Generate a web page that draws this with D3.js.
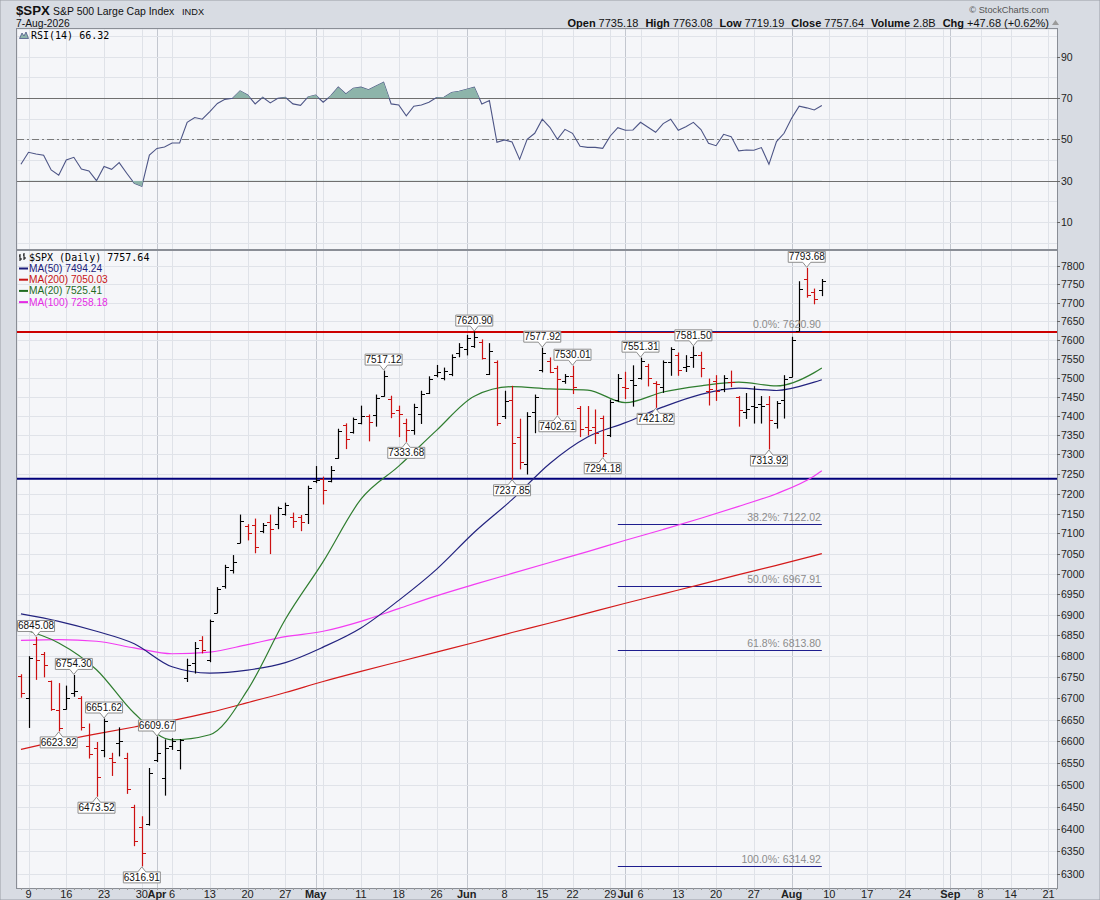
<!DOCTYPE html>
<html>
<head>
<meta charset="utf-8">
<title>$SPX</title>
<script src="https://cdn.jsdelivr.net/npm/d3@7"></script>
<style>
  body { margin: 0; background: #d8dce3; }
  svg { display: block; }
</style>
</head>
<body>
<svg width="1100" height="900"></svg>
<script>
'use strict';

// ---- calendar ----
const firstDay = "2026-03-06";
const lastDay = "2026-09-22";
const holidays = ["2026-04-03", "2026-05-25", "2026-06-19", "2026-07-03", "2026-09-07"];

// ---- daily bars, Mar 6 .. Aug 7 ----
const opens = [6752,6701,6830,6805,6740,6672,6676,6712,6700,6590,6585,6580,6560,6595,6560,6450,6403,6410,6556,6515,
  6590,6580,6748,6783,6840,6790,6905,6970,7010,7077,7118,7120,7105,7128,7123,7150,7140,7140,7150,7232,
  7238,7232,7290,7375,7357,7382,7400,7403,7452,7445,7414,7380,7362,7405,7460,7508,7500,7510,7565,7575,
  7585,7595,7510,7540,7400,7440,7346,7275,7410,7520,7545,7525,7490,7505,7420,7372,7370,7395,7350,7440,
  7475,7494,7498,7530,7485,7475,7540,7560,7528,7555,7560,7465,7490,7470,7488,7448,7410,7425,7430,7430,
  7380,7440,7502,7625,7765,7730,7735.18];
const highs = [6756,6799,6845.08,6809,6741,6735,6729,6754.30,6704,6640,6597,6651.62,6572,6631,6572,6453,6427,6537,6609.67,6603,
  6606,6604,6793,6833,6847,6887,6966,7021,7045,7146,7122,7136,7125,7146,7166,7176,7151,7145,7219,7269,
  7242,7269,7365,7379,7394,7425,7402,7454,7517.12,7451,7425,7391,7430,7464,7502,7532,7525,7560,7590,7612,
  7620.90,7600,7590,7544,7464,7477,7391,7408,7454,7577.92,7552,7530,7508,7530.01,7424,7424,7415,7399,7441,7508,
  7514,7531,7551.31,7535,7489,7544,7579,7565,7558,7581.50,7567,7496,7505,7505,7517,7450,7458,7476,7450,7450,
  7437,7505,7607,7757,7793.68,7737,7763.08];
const lows = [6703,6632,6745,6751,6672,6623.92,6675,6705,6626,6561,6473.52,6564,6521,6566,6480,6362,6316.91,6408,6553,6476,
  6581,6536,6740,6760,6808,6787,6905,6965,7002,7077,7084,7052,7102,7050,7112,7146,7115,7107,7125,7228,
  7174,7230,7290,7315,7355,7379,7335,7373,7451,7395,7346,7333.68,7352,7380,7458,7502,7494,7505,7555,7560,
  7580,7549,7508,7375,7393,7237.85,7263,7250,7356,7515,7513,7402.61,7485,7458,7346,7350,7328,7294.18,7346,7437,
  7445,7425,7496,7478,7421.82,7461,7506,7506,7516,7527,7502,7428,7440,7463,7476,7373,7393,7381,7381,7313.92,
  7368,7394,7502,7625,7715,7697,7719.19];
const closes = [6712,6795,6790,6780,6676,6631,6701,6718,6632,6570,6518,6648,6552,6600,6490,6373,6345,6527,6572,6585,
  6600,6603,6780,6820,6815,6885,6963,7018,7030,7130,7100,7067,7122,7110,7163,7172,7130,7128,7214,7235,
  7210,7260,7360,7340,7392,7400,7384,7446,7503,7408,7405,7362,7423,7458,7496,7515,7518,7555,7580,7605,
  7608,7552,7570,7380,7438,7330,7280,7400,7450,7565,7515,7495,7505,7475,7365,7362,7355,7305,7437,7500,
  7472,7481,7545,7500,7484,7540,7575,7520,7530,7560,7525,7470,7465,7500,7487,7415,7418,7422,7425,7390,
  7432,7496,7600,7738,7722,7709.96,7757.64];
const volumeText = "2.8B";

// ---- RSI(14), same days ----
const rsi14 = [37.9,43.7,42.9,42.3,35.2,32.6,40.0,41.3,35.6,34.7,30.0,36.9,35.5,38.7,33.6,28.7,27.3,42.4,45.6,46.3,
  48.2,48.2,58.2,60.5,59.7,63.4,67.3,69.3,69.8,73.4,71.4,67.1,70.3,67.6,69.8,70.3,67.1,66.4,70.5,71.4,
  67.9,71.0,75.2,71.9,74.7,75.2,73.9,75.8,77.6,67.1,66.6,61.3,66.0,66.6,67.9,70.2,70.3,72.6,73.2,74.2,
  75.2,67.1,68.7,48.5,49.7,48.7,40.3,50.0,52.9,59.7,55.8,50.0,54.8,52.9,46.6,46.1,46.1,45.6,51.6,55.6,
  54.4,54.5,58.2,55.8,53.4,57.6,59.7,54.4,56.1,58.2,54.7,48.1,46.9,52.4,51.3,44.4,44.8,44.7,46.0,37.9,
  48.9,52.9,60.2,66.0,65.2,64.2,66.32];

// ---- moving averages ----
const maDates = ["2026-03-06","2026-03-13","2026-03-20","2026-03-27","2026-04-06","2026-04-13","2026-04-20","2026-04-27",
  "2026-05-04","2026-05-11","2026-05-18","2026-05-26","2026-06-02","2026-06-09","2026-06-16","2026-06-24",
  "2026-07-01","2026-07-09","2026-07-16","2026-07-23","2026-07-30","2026-08-06","2026-08-07"];
const ma20 = [6866,6832,6768,6665,6603,6615,6720,6889,7030,7186,7270,7362,7451,7476,7470,7467,7434,7462,7478,7488,7478,7513,7525.41];
const ma50 = [6902,6884,6860,6830,6775,6760,6767,6785,6822,6868,6935,7011,7103,7185,7277,7345,7382,7423,7456,7472,7466,7488,7494.24];
const ma100 = [6838,6840,6836,6820,6806,6810,6828,6847,6860,6884,6915,6946,6974,7001,7028,7055,7083,7110,7138,7168,7200,7245,7258.18];
const ma200 = [6581,6600,6617,6633,6648,6667,6690,6714,6740,6764,6787,6810,6833,6857,6880,6904,6928,6951,6974,6998,7021,7045,7050.03];

// ---- annotations ----
const hiDates = ["2026-03-10","2026-03-17","2026-03-23","2026-04-01","2026-05-14","2026-06-02","2026-06-15","2026-06-22","2026-07-06","2026-07-15","2026-08-05"];
const hiValues = [6845.08,6754.30,6651.62,6609.67,7517.12,7620.90,7577.92,7530.01,7551.31,7581.50,7793.68];
const loDates = ["2026-03-13","2026-03-20","2026-03-30","2026-05-19","2026-06-09","2026-06-17","2026-06-26","2026-07-08","2026-07-29"];
const loValues = [6623.92,6473.52,6316.91,7333.68,7237.85,7402.61,7294.18,7421.82,7313.92];

const resistance = 7620.90;
const support = 7237.85;
const fibStart = "2026-06-30";
const fibEnd = "2026-08-07";
const fibHigh = 7620.90;
const fibLow = 6314.92;
const fibLevels = [0, 0.382, 0.5, 0.618, 1];

const priceTicks = d3.range(6300, 7801, 50);
const rsiTicks = [10, 30, 50, 70, 90];
const rsiGrid = d3.range(0, 101, 10);

// ---- layout ----
const svg = d3.select("svg");
const width = +svg.attr("width");
const height = +svg.attr("height");
const left = 17, right = 1057;
const rsiTop = 29, rsiBot = 250, priceBot = 888;
const sans = "'Liberation Sans', Arial, sans-serif";
const mono = "'DejaVu Sans Mono', 'Liberation Mono', monospace";

const fmt = d3.utcFormat("%Y-%m-%d");
const days = d3.utcDays(new Date(firstDay), d3.utcDay.offset(new Date(lastDay), 1))
  .filter(d => d.getUTCDay() % 6 !== 0 && !holidays.includes(fmt(d)));
const keys = days.map(fmt);

const step = 1020 / 135;
const x = d3.scalePoint().domain(keys).range([28.5 - step, 28.5 + (keys.length - 2) * step]);
const xs = k => Math.round(x(k)) + 0.5;
const y = d3.scaleLog().domain([6268, 7844]).range([priceBot, rsiBot]);
const yr = d3.scaleLinear().domain([-3.5, 103.3]).range([rsiBot, rsiTop]);
const ys = v => Math.round(y(v)) + 0.5;

// shrink or grow a text until it is w pixels wide
function fitText(t, w) {
  for (let k = 0; k < 3; k++) {
    const fs = parseFloat(t.style("font-size"));
    const bw = t.node().getBBox().width;
    if (bw > 0) t.style("font-size", (fs * w / bw) + "px");
  }
  return t;
}

svg.append("rect").attr("width", width).attr("height", height)
  .attr("fill", "#d8dce3").attr("stroke", "#9a9ea6");

const defs = svg.append("defs");
defs.append("clipPath").attr("id", "clipRsi").append("rect")
  .attr("x", left).attr("y", rsiTop).attr("width", right - left).attr("height", rsiBot - rsiTop);
defs.append("clipPath").attr("id", "clipPrice").append("rect")
  .attr("x", left).attr("y", rsiBot).attr("width", right - left).attr("height", priceBot - rsiBot);
defs.append("clipPath").attr("id", "clipHi").append("rect")
  .attr("x", left).attr("y", rsiTop).attr("width", right - left).attr("height", yr(70) - rsiTop);
defs.append("clipPath").attr("id", "clipLo").append("rect")
  .attr("x", left).attr("y", yr(30)).attr("width", right - left).attr("height", rsiBot - yr(30));

// panel backgrounds
[[rsiTop, rsiBot], [rsiBot, priceBot]].forEach(([t, b]) => {
  svg.append("rect").attr("x", left + 0.5).attr("y", t + 0.5)
    .attr("width", right - left).attr("height", b - t)
    .attr("fill", "#f5f6f9");
});

// ---- x ticks (weeks and months) ----
const monthTicks = [], weekTicks = [];
days.forEach((d, i) => {
  if (i === 0) return;
  const prev = days[i - 1];
  if (prev.getUTCMonth() !== d.getUTCMonth()) monthTicks.push(keys[i]);
  if (d3.utcMonday.floor(d) > prev) weekTicks.push(keys[i]);
});

const grid = svg.append("g");
weekTicks.forEach(k => {
  grid.append("line").attr("x1", xs(k)).attr("x2", xs(k)).attr("y1", rsiTop).attr("y2", priceBot)
    .attr("stroke", "#dfe2e8");
});
monthTicks.forEach(k => {
  grid.append("line").attr("x1", xs(k)).attr("x2", xs(k)).attr("y1", rsiTop).attr("y2", priceBot)
    .attr("stroke", "#c3c7cf");
});
priceTicks.forEach(v => {
  grid.append("line").attr("x1", left).attr("x2", right).attr("y1", ys(v)).attr("y2", ys(v))
    .attr("stroke", "#e0e3e9");
});
rsiGrid.forEach(v => {
  const yy = Math.round(yr(v)) + 0.5;
  grid.append("line").attr("x1", left).attr("x2", right).attr("y1", yy).attr("y2", yy)
    .attr("stroke", "#e0e3e9");
});

// ---- RSI panel ----
const rsiData = rsi14.map((v, i) => ({ k: keys[i], v }));
const rsiG = svg.append("g").attr("clip-path", "url(#clipRsi)");
[70, 30].forEach(v => {
  const yy = Math.round(yr(v)) + 0.5;
  rsiG.append("line").attr("x1", left).attr("x2", right).attr("y1", yy).attr("y2", yy)
    .attr("stroke", "#6f6f6f");
});
rsiG.append("line").attr("x1", left).attr("x2", right)
  .attr("y1", Math.round(yr(50)) + 0.5).attr("y2", Math.round(yr(50)) + 0.5)
  .attr("stroke", "#7a7a7a").attr("stroke-dasharray", "7,3,2,3");

const areaHi = d3.area().x(d => x(d.k)).y0(yr(70)).y1(d => yr(d.v));
const areaLo = d3.area().x(d => x(d.k)).y0(yr(30)).y1(d => yr(d.v));
svg.append("path").attr("clip-path", "url(#clipHi)").attr("d", areaHi(rsiData)).attr("fill", "#8db4aa");
svg.append("path").attr("clip-path", "url(#clipLo)").attr("d", areaLo(rsiData)).attr("fill", "#8db4aa");
rsiG.append("path").attr("d", d3.line().x(d => x(d.k)).y(d => yr(d.v))(rsiData))
  .attr("fill", "none").attr("stroke", "#4d5586").attr("stroke-width", 1.1);

// ---- price panel ----
const pg = svg.append("g").attr("clip-path", "url(#clipPrice)");

pg.append("line").attr("x1", left).attr("x2", right).attr("y1", y(resistance)).attr("y2", y(resistance))
  .attr("stroke", "#cc0000").attr("stroke-width", 2);
pg.append("line").attr("x1", left).attr("x2", right).attr("y1", y(support)).attr("y2", y(support))
  .attr("stroke", "#00007a").attr("stroke-width", 2);

fibLevels.forEach(f => {
  const v = fibHigh - f * (fibHigh - fibLow);
  pg.append("line").attr("x1", x(fibStart)).attr("x2", x(fibEnd)).attr("y1", ys(v) - 1).attr("y2", ys(v) - 1)
    .attr("stroke", "#1d1d8e").attr("stroke-width", 1);
});

const maSeries = [[ma200, "#d41a1a"], [ma100, "#f23cf2"], [ma50, "#23237f"], [ma20, "#2f7d2f"]];
const maLine = d3.line().curve(d3.curveMonotoneX).x(d => x(d[0])).y(d => y(d[1]));
maSeries.forEach(([vals, col]) => {
  pg.append("path").attr("d", maLine(maDates.map((k, i) => [k, vals[i]])))
    .attr("fill", "none").attr("stroke", col).attr("stroke-width", 1.2);
});

// OHLC bars
const bars = closes.map((c, i) => ({
  k: keys[i], o: opens[i], h: highs[i], l: lows[i], c,
  up: i === 0 ? c >= opens[i] : c >= closes[i - 1]
}));
const barG = pg.append("g");
bars.forEach(b => {
  const cx = xs(b.k);
  const col = b.up ? "#000000" : "#cc1111";
  barG.append("line").attr("x1", cx).attr("x2", cx).attr("y1", y(b.h) - 0.5).attr("y2", y(b.l) + 0.5)
    .attr("stroke", col).attr("stroke-width", 1.2);
  barG.append("line").attr("x1", cx - 3.5).attr("x2", cx).attr("y1", ys(b.o)).attr("y2", ys(b.o))
    .attr("stroke", col);
  barG.append("line").attr("x1", cx).attr("x2", cx + 3.5).attr("y1", ys(b.c)).attr("y2", ys(b.c))
    .attr("stroke", col);
});

// fib labels
fibLevels.forEach(f => {
  const v = fibHigh - f * (fibHigh - fibLow);
  pg.append("text").attr("x", x(fibEnd) - 1).attr("y", y(v) - 4)
    .attr("text-anchor", "end").attr("fill", "#8c8c8c")
    .style("font-family", sans).style("font-size", "10.5px")
    .text(d3.format(".1f")(f * 100) + "%: " + d3.format(".2f")(v));
});

// high / low callouts
function callout(k, v, up) {
  const cx = x(k), w = 37, h = 11, gap = 5;
  const tip = up ? y(v) - 1 : y(v) + 1;
  const edge = up ? tip - gap : tip + gap;
  const far = up ? edge - h : edge + h;
  const g = pg.append("g");
  g.append("path")
    .attr("d", `M${cx - w / 2},${far}H${cx + w / 2}V${edge}H${cx + 4}L${cx},${tip}L${cx - 4},${edge}H${cx - w / 2}Z`)
    .attr("fill", "#ffffff").attr("stroke", "#8e8e8e").attr("stroke-width", 1);
  g.append("text").attr("x", cx).attr("y", Math.max(edge, far) - 2)
    .attr("text-anchor", "middle").attr("fill", "#111")
    .style("font-family", sans).style("font-size", "10px")
    .text(d3.format(".2f")(v));
}
hiDates.forEach((k, i) => callout(k, hiValues[i], true));
loDates.forEach((k, i) => callout(k, loValues[i], false));

// panel borders
[[rsiTop, rsiBot], [rsiBot, priceBot]].forEach(([t, b]) => {
  svg.append("rect").attr("x", left - 0.5).attr("y", t - 0.5)
    .attr("width", right - left + 1).attr("height", b - t + 1)
    .attr("fill", "none").attr("stroke", "#8a8e96");
});

// ---- axes ----
const axisG = svg.append("g").style("font-family", sans).style("font-size", "10.5px").attr("fill", "#222");
priceTicks.forEach(v => {
  axisG.append("line").attr("x1", right).attr("x2", right + 3).attr("y1", ys(v)).attr("y2", ys(v)).attr("stroke", "#666");
  axisG.append("text").attr("x", right + 4).attr("y", y(v) + 4).text(v);
});
rsiTicks.forEach(v => {
  const yy = Math.round(yr(v)) + 0.5;
  axisG.append("line").attr("x1", right).attr("x2", right + 3).attr("y1", yy).attr("y2", yy).attr("stroke", "#666");
  axisG.append("text").attr("x", right + 4).attr("y", yr(v) + 4).text(v);
});
keys.forEach(k => {
  axisG.append("line").attr("x1", xs(k)).attr("x2", xs(k)).attr("y1", priceBot).attr("y2", priceBot + 2)
    .attr("stroke", "#9a9a9a");
});
const xLab = svg.append("g").style("font-family", sans).style("font-size", "11px").attr("fill", "#222");
monthTicks.forEach(k => {
  xLab.append("text").attr("x", x(k)).attr("y", 898).attr("text-anchor", "middle")
    .style("font-weight", "bold").text(d3.utcFormat("%b")(new Date(k)));
});
weekTicks.forEach(k => {
  if (monthTicks.some(m => Math.abs(x(m) - x(k)) < 10)) return;
  xLab.append("text").attr("x", x(k)).attr("y", 898).attr("text-anchor", "middle")
    .text(+k.slice(8));
});

// ---- legends ----
const n = closes.length - 1;
svg.append("path").attr("d", "M20,254V261M19,256H20M20,259H22M24,253V260M23,255H24M24,258H26")
  .attr("stroke", "#000").attr("fill", "none");
svg.append("text").attr("x", 29).attr("y", 261)
  .style("font-family", mono).style("font-size", "10px").attr("fill", "#000")
  .text("$SPX (Daily) " + d3.format(".2f")(closes[n]));

const maLegend = [["MA(50)", ma50, "#1b1b7a"], ["MA(200)", ma200, "#c81414"], ["MA(20)", ma20, "#1f6b1f"], ["MA(100)", ma100, "#e52be5"]];
maLegend.forEach(([name, vals, col], i) => {
  const yy = 272 + i * 11.2;
  svg.append("line").attr("x1", 19).attr("x2", 28).attr("y1", yy - 3.5).attr("y2", yy - 3.5)
    .attr("stroke", col).attr("stroke-width", 2);
  svg.append("text").attr("x", 29).attr("y", yy)
    .style("font-family", sans).style("font-size", "10.2px").attr("fill", col)
    .text(name + " " + d3.format(".2f")(vals[vals.length - 1]));
});

svg.append("path").attr("d", "M19.5,38.5L22,33L24,36L26,32L28.5,38.5Z")
  .attr("fill", "#8db4aa").attr("stroke", "#4d5586").attr("stroke-width", 0.8);
svg.append("text").attr("x", 31).attr("y", 38.5)
  .style("font-family", mono).style("font-size", "10px").attr("fill", "#000")
  .text("RSI(14) " + d3.format(".2f")(rsi14[rsi14.length - 1]));

// ---- header ----
fitText(svg.append("text").attr("x", 16).attr("y", 14.5)
  .style("font-family", sans).style("font-size", "14px").style("font-weight", "bold").attr("fill", "#111")
  .text("$SPX"), 34);
fitText(svg.append("text").attr("x", 53).attr("y", 14.5)
  .style("font-family", sans).style("font-size", "11px").attr("fill", "#111")
  .text("S&P 500 Large Cap Index"), 122);
fitText(svg.append("text").attr("x", 182).attr("y", 14.5)
  .style("font-family", sans).style("font-size", "10px").attr("fill", "#111")
  .text("INDX"), 22);
fitText(svg.append("text").attr("x", 16).attr("y", 26.5)
  .style("font-family", sans).style("font-size", "11px").attr("fill", "#111")
  .text("7-Aug-2026"), 54);
fitText(svg.append("text").attr("x", 1049).attr("y", 12.5).attr("text-anchor", "end")
  .style("font-family", sans).style("font-size", "11px").attr("fill", "#555")
  .text("\u00a9 StockCharts.com"), 80);

const chg = closes[n] - closes[n - 1];
const pct = chg / closes[n - 1] * 100;
const hdrParts = [
  ["Open", d3.format(".2f")(opens[n])],
  ["High", d3.format(".2f")(highs[n])],
  ["Low", d3.format(".2f")(lows[n])],
  ["Close", d3.format(".2f")(closes[n])],
  ["Volume", volumeText],
  ["Chg", d3.format("+.2f")(chg) + " (" + d3.format("+.2f")(pct) + "%)"]
];
const hdr = svg.append("text").attr("x", 1049).attr("y", 26.5).attr("text-anchor", "end")
  .style("font-family", sans).style("font-size", "11px").attr("fill", "#111");
hdrParts.forEach(([lab, val], i) => {
  hdr.append("tspan").attr("dx", i ? 7 : 0).style("font-weight", "bold").text(lab);
  hdr.append("tspan").attr("dx", 3).text(val);
});
fitText(hdr, 482);
svg.append("path").attr("d", "M1052,25L1055.5,20L1059,25Z").attr("fill", "#9a9a9a");
</script>
</body>
</html>
